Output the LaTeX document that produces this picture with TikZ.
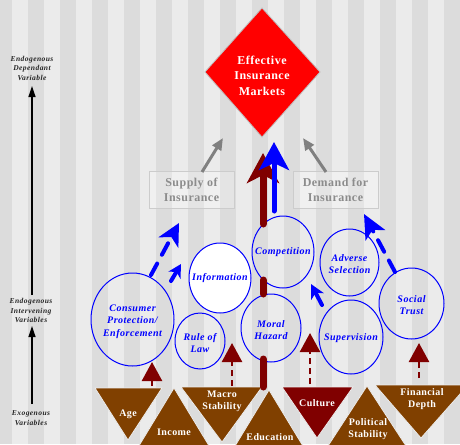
\documentclass[tikz,border=0pt]{standalone}
\usepackage{fontspec}
\setmainfont{Liberation Serif}
\usetikzlibrary{shapes.geometric,arrows.meta}
\definecolor{stripeA}{HTML}{EBEBEB}
\definecolor{stripeB}{HTML}{DCDCDC}
\definecolor{dred}{HTML}{800000}
\definecolor{tribrown}{HTML}{804000}
\definecolor{boxgray}{HTML}{8C8C8C}
\definecolor{arrgray}{HTML}{808080}
\newcommand\ellfont{\fontsize{10}{12.5}\selectfont\bfseries\itshape\addfontfeature{LetterSpace=5}}
\newcommand\axfont{\fontsize{7.5}{9.5}\selectfont\bfseries\itshape\addfontfeature{LetterSpace=6}}
\newcommand\trifont{\fontsize{10}{12}\selectfont\bfseries\addfontfeature{LetterSpace=4}}
\newcommand\boxfont{\fontsize{12}{15}\selectfont\bfseries\addfontfeature{LetterSpace=4}}
\tikzset{
  ellline/.style={draw=blue, line width=1pt},
  elltext/.style={text=blue, font=\ellfont, align=center, inner sep=0pt},
  tri/.style={draw=white!85!gray, line width=0.8pt},
  tritext/.style={text=white, font=\trifont, align=center, inner sep=0pt},
  axtext/.style={text=black!85, font=\axfont, align=center, inner sep=0pt},
  axarrow/.style={black, line width=1.2pt, -{Triangle[length=11pt,width=7pt]}},
  supbox/.style={draw=black!20, line width=0.8pt, fill=white, fill opacity=0.25, text opacity=1, text=boxgray, font=\boxfont, align=center, minimum width=85pt, minimum height=37pt, inner sep=0pt},
  grayarrow/.style={arrgray, line width=3pt, -{Triangle[length=12pt,width=10pt]}},
  bdash/.style={blue, line width=4pt, line cap=round, dash pattern=on 13pt off 10pt},
  bsolid/.style={blue, line width=4pt, line cap=round},
  rdash/.style={dred, line width=2.5pt, dash pattern=on 6pt off 4pt, -{Triangle[length=19pt,width=20pt]}},
}
\begin{document}
\begin{tikzpicture}[x=1pt,y=-1pt]
\useasboundingbox (0,0) rectangle (460,444);
\clip (0,0) rectangle (460,444);
% background stripes
\fill[stripeA] (0,0) rectangle (460,444);
\foreach \k in {0,...,14} \fill[stripeB] ({-3.7+32*\k},0) rectangle ({12.3+32*\k},444);

% axis labels and arrows
\node[axtext] (lab1) at (32,68) {Endogenous\\Dependant\\Variable};
\node[axtext] (lab2) at (31,310.5) {Endogenous\\Intervening\\Variables};
\node[axtext] (lab3) at (31,418) {Exogenous\\Variables};
\coordinate (a1) at (32,295);
\coordinate (a2) at (32,86);
\coordinate (b1) at (32,404);
\coordinate (b2) at (32,326);
\draw[axarrow] (a1) -- (a2);
\draw[axarrow] (b1) -- (b2);

% diamond
\fill[red, draw=black!25, line width=0.8pt] (205,72) -- (262,8) -- (320,72) -- (262,137) -- cycle;
\node[text=white, font=\fontsize{12}{15.5}\selectfont\bfseries\addfontfeature{LetterSpace=4}, align=center, inner sep=0pt] (eim) at (262,75.5) {Effective\\Insurance\\Markets};

% supply / demand boxes
\node[supbox] (supply) at (191.5,189.5) {Supply of\\Insurance};
\node[supbox] (demand) at (335.5,189.5) {Demand for\\Insurance};
\coordinate (s1) at (202,172);
\coordinate (s2) at (223,138);
\coordinate (d1) at (326,172);
\coordinate (d2) at (303,138);
\draw[grayarrow] (s1) -- (s2);
\draw[grayarrow] (d1) -- (d2);

% triangles
\filldraw[tri, fill=tribrown] (95,388) -- (162,388) -- (128,440) -- cycle;
\filldraw[tri, fill=tribrown] (174,388) -- (211,449) -- (137,449) -- cycle;
\filldraw[tri, fill=tribrown] (181,387) -- (262,387) -- (222,442) -- cycle;
\filldraw[tri, fill=tribrown] (269,390) -- (306,451) -- (232,451) -- cycle;
\filldraw[tri, fill=dred] (282,387) -- (353,387) -- (317,438) -- cycle;
\filldraw[tri, fill=tribrown] (367,386) -- (408,449) -- (326,449) -- cycle;
\filldraw[tri, fill=tribrown] (375,385) -- (468,385) -- (421,438) -- cycle;
\node[tritext] (age) at (128,414) {Age};
\node[tritext] (income) at (174,432) {Income};
\node[tritext] (macro) at (222,401) {Macro\\Stability};
\node[tritext] (edu) at (270,437) {Education};
\node[tritext] (culture) at (317,403) {Culture};
\node[tritext] (polit) at (368,429) {Political\\Stability};
\node[tritext] (findepth) at (422,399) {Financial\\Depth};

% ellipses
\draw[ellline] (132.5,319.5) ellipse [x radius=41.5pt, y radius=46.5pt];
\node[elltext] (cpe) at (132.5,321.5) {Consumer\\Protection/\\Enforcement};
\filldraw[ellline, fill=white] (220,278) ellipse [x radius=31pt, y radius=35pt];
\node[elltext] (info) at (220,278) {Information};
\draw[ellline] (200,341) ellipse [x radius=25pt, y radius=28pt];
\node[elltext] (rol) at (200,343) {Rule of\\Law};
\draw[ellline] (283,252) ellipse [x radius=31pt, y radius=36pt];
\node[elltext] (comp) at (283,252.5) {Competition};
\draw[ellline] (271,328) ellipse [x radius=30pt, y radius=34pt];
\node[elltext] (mh) at (271,330) {Moral\\Hazard};
\draw[ellline] (349.5,262.5) ellipse [x radius=29.5pt, y radius=33.5pt];
\node[elltext] (adv) at (349.5,264) {Adverse\\Selection};
\draw[ellline] (351,337) ellipse [x radius=32pt, y radius=37pt];
\node[elltext] (sup) at (351,338) {Supervision};
\draw[ellline] (411.5,303.5) ellipse [x radius=32.5pt, y radius=35.5pt];
\node[elltext] (st) at (411.5,305) {Social\\Trust};

% thick dark red arrow (education -> moral hazard -> competition -> market)
\coordinate (r0) at (263,387);
\coordinate (r1) at (263,359);
\coordinate (r2) at (263,294);
\coordinate (r3) at (263,280);
\coordinate (r4) at (263,224);
\coordinate (r5) at (263,153);
\draw[dred, line width=7pt, line cap=round] (r0) -- (r1);
\draw[dred, line width=7pt, line cap=round] (r2) -- (r3);
\draw[dred, line width=7pt, line cap=round, -{Stealth[length=30pt,width=32pt,inset=8pt]}] (r4) -- (r5);

% blue big arrow competition -> market
\coordinate (c1) at (274,211);
\coordinate (c2) at (274,142);
\draw[blue, line width=5pt, line cap=round, -{Stealth[length=28pt,width=30pt,inset=7pt]}] (c1) -- (c2);

% blue arrows between intervening variables
\coordinate (p1) at (151,275);
\coordinate (p2) at (179,223);
\draw[bdash, -{Stealth[length=22pt,width=22pt,inset=6pt]}] (p1) -- (p2);
\coordinate (q1) at (171,281);
\coordinate (q2) at (181,264);
\draw[bsolid, -{Stealth[length=13pt,width=14pt,inset=4pt]}] (q1) -- (q2);
\coordinate (v1) at (322,305);
\coordinate (v2) at (311,284);
\draw[bsolid, -{Stealth[length=14pt,width=14pt,inset=4pt]}] (v1) -- (v2);
\coordinate (t1) at (395,272);
\coordinate (t2) at (364,214);
\draw[bdash, -{Stealth[length=24pt,width=22pt,inset=6pt]}] (t1) -- (t2);

% dark red dashed arrows from exogenous variables
\coordinate (e1) at (152,386);
\coordinate (e2) at (152,362);
\draw[rdash] (e1) -- (e2);
\coordinate (f1) at (232,386);
\coordinate (f2) at (232,343);
\draw[rdash] (f1) -- (f2);
\coordinate (g1) at (310,384);
\coordinate (g2) at (310,333);
\draw[rdash] (g1) -- (g2);
\coordinate (h1) at (419,378);
\coordinate (h2) at (419,343);
\draw[rdash] (h1) -- (h2);
\end{tikzpicture}
\end{document}
